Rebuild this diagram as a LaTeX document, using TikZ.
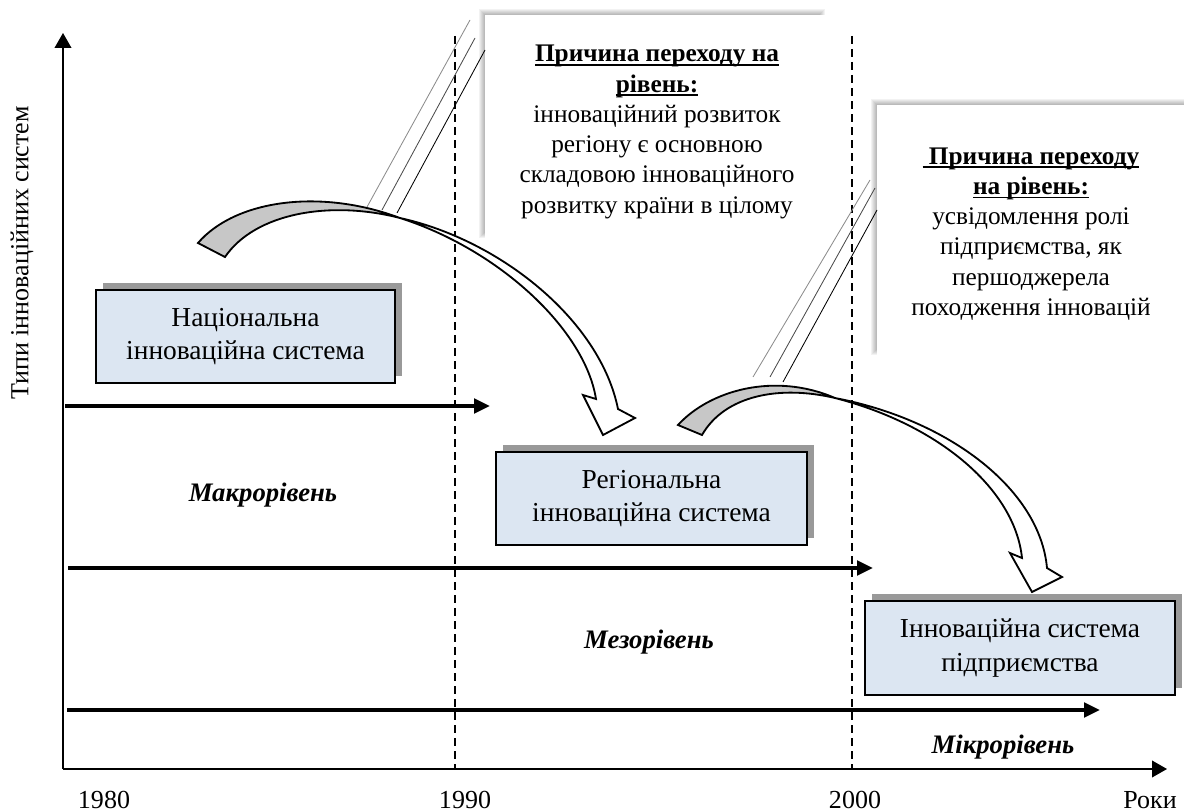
\documentclass[tikz,border=0pt]{standalone}
\usepackage{fontspec}
\setmainfont{Liberation Serif}
\usepackage{tikz}
\usetikzlibrary{arrows.meta}
\usetikzlibrary{shadows}
\definecolor{boxblue}{HTML}{DCE6F2}
\tikzset{sysbox/.style={draw=black,line width=1.4pt,fill=boxblue,align=center,inner sep=0pt,
                        general shadow={fill=black!40,shadow xshift=1.75mm,shadow yshift=1.75mm},
                        font=\fontsize{19.5}{24}\selectfont}}
\tikzset{note/.style={fill=white,align=center,inner sep=0pt,font=\fontsize{18}{21.5}\selectfont}}
\newlength\ulw
\newcommand\ulbf[1]{\settowidth\ulw{\textbf{#1}}\textbf{#1}\llap{\rule[-2.6pt]{\ulw}{1.1pt}}}

\begin{document}
\begin{tikzpicture}[x=0.25mm,y=-0.25mm]
    \useasboundingbox (0,0) rectangle (1184,812);
    \tikzstyle{axis}=[line width=0.8pt,-{Triangle[length=3.75mm,width=4.2mm]}]
    \tikzstyle{timeline}=[line width=2.9pt,-{Triangle[length=4mm,width=3.6mm]}]
    \tikzstyle{level}=[font=\fontsize{19}{22}\selectfont\bfseries\itshape]
    \tikzstyle{year}=[font=\fontsize{18.5}{22}\selectfont,anchor=base,inner sep=0pt]
    \tikzstyle{curvearrow}=[draw=black,line width=1.3pt,line join=miter]

    % Axes
    \coordinate (O) at (63,769);
    \coordinate (Ytop) at (63,33);
    \coordinate (Xend) at (1167,769);
    \draw[axis] (O) -- (Ytop);
    \draw[axis] (O) -- (Xend);
    \node[font=\fontsize{18.5}{22}\selectfont,rotate=90] (ylab) at (22,253) {Типи інноваційних систем};

    % Years and the dashed borders of the decades
    \node[year] (y1980) at (104,808) {1980};
    \node[year] (y1990) at (465,808) {1990};
    \node[year] (y2000) at (855,808) {2000};
    \node[year] (roky) at (1150,808) {Роки};
    \foreach \x in {455,852}
        \draw[line width=0.9pt,dash pattern=on 2mm off 1.25mm] (\x,36) -- (\x,769);

    % Levels
    \coordinate (L1a) at (65,406);  \coordinate (L1b) at (490,406);
    \coordinate (L2a) at (68,568);  \coordinate (L2b) at (873,568);
    \coordinate (L3a) at (67,710);  \coordinate (L3b) at (1100,710);
    \draw[timeline] (L1a) -- (L1b);
    \draw[timeline] (L2a) -- (L2b);
    \draw[timeline] (L3a) -- (L3b);
    \node[level] (macro) at (263,495) {Макрорівень};
    \node[level] (meso) at (649,642) {Мезорівень};
    \node[level] (micro) at (1003,747) {Мікрорівень};

    % Types of innovation systems
    \node[sysbox,minimum width=74.75mm,minimum height=23.25mm] (nat) at (245.5,336.5)
        {Національна\\інноваційна система};
    \node[sysbox,minimum width=77.75mm,minimum height=23.25mm] (reg) at (651.5,498.5)
        {Регіональна\\інноваційна система};
    \node[sysbox,minimum width=77.5mm,minimum height=23.5mm] (ent) at (1020,648)
        {Інноваційна система\\підприємства};

    % Callouts with a soft shadow
    \foreach \k in {1,...,6}
        \fill[black,opacity=0.05] (485-\k,15-\k) rectangle (819+\k,232+\k);
    \node[note,minimum width=85.5mm,minimum height=56.25mm] (whyA) at (656,127.5) {};
    \node[note,fill=none] (whyAtext) at (657,132)
        {\ulbf{Причина переходу на}\\\ulbf{рівень:}\\інноваційний розвиток\\регіону є основною\\складовою інноваційного\\розвитку країни в цілому};
    \foreach \k in {1,...,6}
        \fill[black,opacity=0.05] (877-\k,105-\k) rectangle (1184,349+\k);
    \node[note,minimum width=77.5mm,minimum height=63mm] (whyB) at (1032,231) {};
    \node[note,fill=none] (whyBtext) at (1031,234)
        {\ulbf{\ Причина переходу}\\\ulbf{на рівень:}\\усвідомлення ролі\\підприємства, як\\першоджерела\\походження інновацій};

    % Leader lines of the callouts
    \foreach \xa/\ya/\xb/\yb/\shade in {367/207/470/20/45,382/210/475/38/70,397/213/485/50/100,
                                       753/377/870/180/45,770/377/875/188/70,783/382/877/210/100}
        \draw[line width=0.6pt,black!\shade] (\xa,\ya) -- (\xb,\yb);

    % Curved arrow from the national to the regional level
    \filldraw[curvearrow,fill=black!22] (198,243) .. controls (235,200) and (320,188) .. (400,218)
        .. controls (330,200) and (255,213) .. (225,257) -- cycle;
    \filldraw[curvearrow,fill=white] (400,218) .. controls (500,240) and (600,320) .. (618,409)
        -- (635,418) -- (603,435) -- (583,395) -- (596,399)
        .. controls (585,330) and (500,250) .. (400,218) -- cycle;

    % Curved arrow from the regional to the enterprise level
    \filldraw[curvearrow,fill=black!22] (678,425) .. controls (710,390) and (775,372) .. (835,398)
        .. controls (780,385) and (725,395) .. (702,435) -- cycle;
    \filldraw[curvearrow,fill=white] (835,398) .. controls (950,420) and (1040,490) .. (1047,568)
        -- (1062,577) -- (1032,592) -- (1010,553) -- (1022,558)
        .. controls (1015,490) and (940,425) .. (835,398) -- cycle;
\end{tikzpicture}
\end{document}
